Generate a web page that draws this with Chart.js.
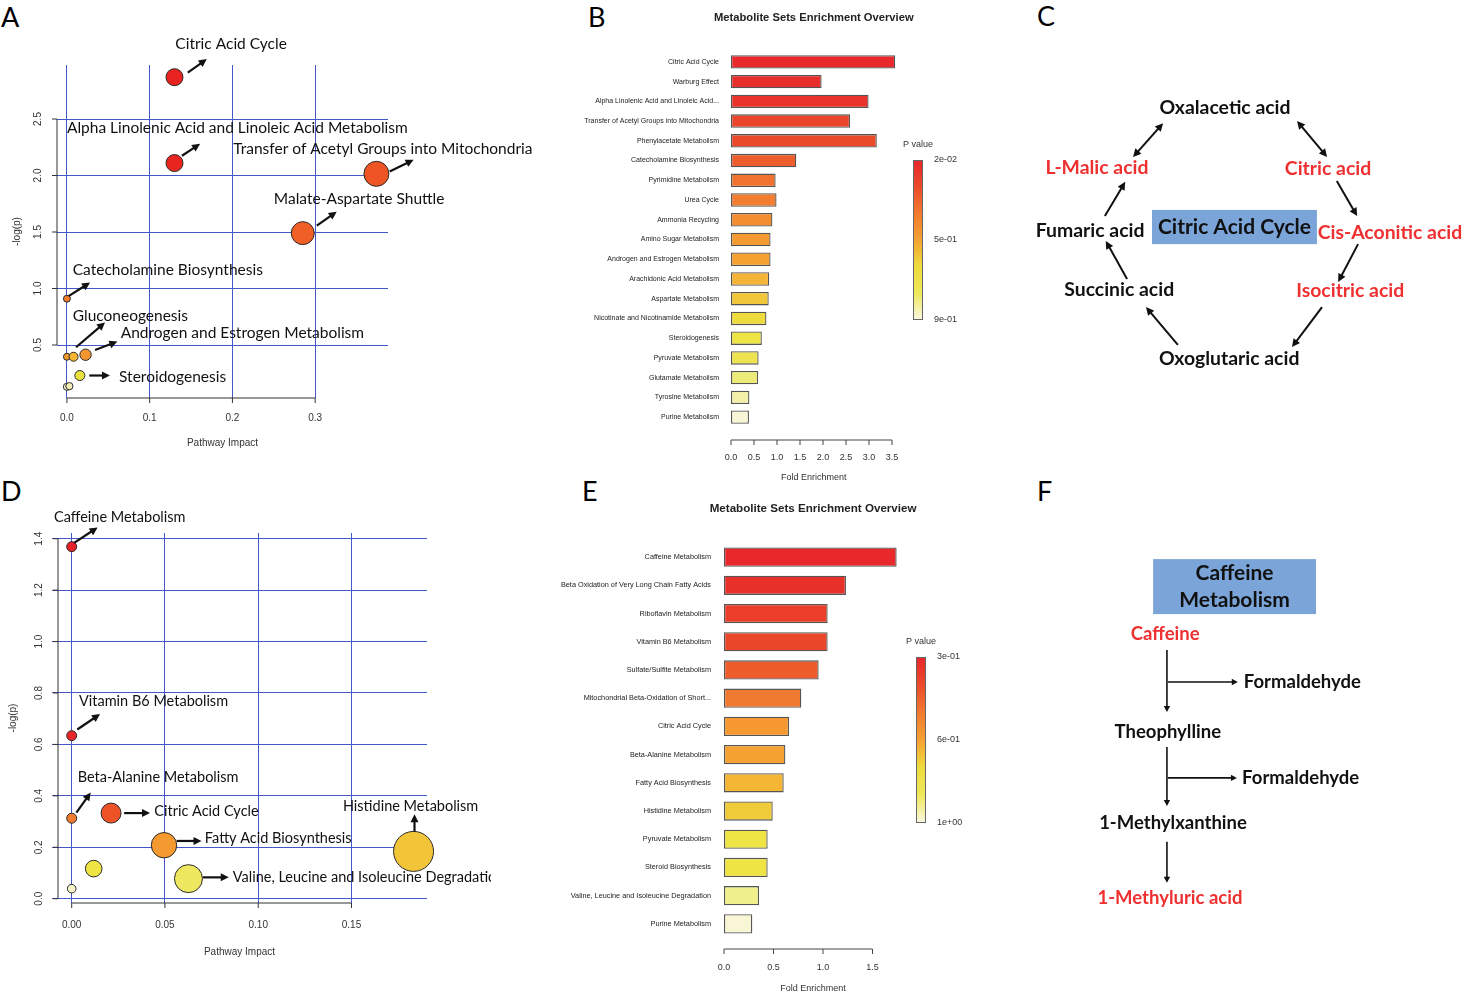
<!DOCTYPE html>
<html>
<head>
<meta charset="utf-8">
<script src="https://cdn.jsdelivr.net/npm/chart.js@4.4.1/dist/chart.umd.min.js"></script>
<style>
  body { margin: 0; background: #fff; width: 1462px; height: 995px; position: relative; overflow: hidden; }
  canvas { position: absolute; }
  .tag { position: absolute; font: 27px Lato, sans-serif; color: #000; line-height: 1; }
</style>
</head>
<body>
<div class="tag" style="left:1px;top:3px">A</div>
<div class="tag" style="left:588px;top:3px">B</div>
<div class="tag" style="left:1037px;top:2px">C</div>
<div class="tag" style="left:1px;top:477px">D</div>
<div class="tag" style="left:582px;top:477px">E</div>
<div class="tag" style="left:1037px;top:477px">F</div>

<canvas id="cA" width="560" height="470" style="left:0;top:0"></canvas>
<canvas id="cB" width="440" height="490" style="left:560px;top:0"></canvas>
<canvas id="cC" width="462" height="360" style="left:1000px;top:40px"></canvas>
<canvas id="cD" width="491" height="505" style="left:0;top:490px"></canvas>
<canvas id="cE" width="440" height="510" style="left:550px;top:490px"></canvas>
<canvas id="cF" width="432" height="390" style="left:1030px;top:540px"></canvas>

<script>
// ---------- panel A : pathway impact vs -log(p) ----------
const aImpact = [0.130, 0.130, 0.374, 0.285, 0.000, 0.000, 0.008, 0.0225, 0.0156, 0.000, 0.003];
const aLogP   = [2.87, 2.11, 2.015, 1.49, 0.91, 0.396, 0.396, 0.414, 0.23, 0.13, 0.136];
const aRadius = [8.5, 8.5, 12.5, 11.5, 3.5, 3.5, 4.5, 5.7, 5, 3.6, 3.6];
const aColors = ['#E8231F', '#E8261F', '#EE5424', '#F05F25', '#F07B2A', '#F39A2C', '#F6B632', '#F59530', '#EAE23C', '#F8F6D0', '#F4F0B8'];
const aXTicks = [0, 0.1, 0.2, 0.3];
const aYTicks = [0.5, 1.0, 1.5, 2.0, 2.5];
const aLabelText = ['Citric Acid Cycle', 'Alpha Linolenic Acid and Linoleic Acid Metabolism',
  'Transfer of Acetyl Groups into Mitochondria', 'Malate-Aspartate Shuttle', 'Catecholamine Biosynthesis',
  'Gluconeogenesis', 'Androgen and Estrogen Metabolism', 'Steroidogenesis'];
const aLabelX = [0.131, 0.000, 0.201, 0.250, 0.007, 0.007, 0.065, 0.063];
const aLabelY = [3.166, 2.417, 2.237, 1.796, 1.163, 0.760, 0.609, 0.213];
const aArrows = [
  [0.146, 2.91, 0.169, 3.03], [0.139, 2.175, 0.161, 2.28], [0.390, 2.035, 0.419, 2.14],
  [0.302, 1.556, 0.326, 1.68], [0.002, 0.932, 0.028, 1.053], [0.011, 0.48, 0.046, 0.70],
  [0.034, 0.456, 0.061, 0.53], [0.027, 0.23, 0.052, 0.23]
];

// ---------- panel B : enrichment overview ----------
const bSets = ['Citric Acid Cycle', 'Warburg Effect', 'Alpha Linolenic Acid and Linoleic Acid...',
  'Transfer of Acetyl Groups into Mitochondria', 'Phenylacetate Metabolism', 'Catecholamine Biosynthesis',
  'Pyrimidine Metabolism', 'Urea Cycle', 'Ammonia Recycling', 'Amino Sugar Metabolism',
  'Androgen and Estrogen Metabolism', 'Arachidonic Acid Metabolism', 'Aspartate Metabolism',
  'Nicotinate and Nicotinamide Metabolism', 'Steroidogenesis', 'Pyruvate Metabolism',
  'Glutamate Metabolism', 'Tyrosine Metabolism', 'Purine Metabolism'];
const bFold = [3.57, 1.97, 2.99, 2.59, 3.17, 1.42, 0.97, 0.99, 0.90, 0.86, 0.86, 0.83, 0.82, 0.77, 0.67, 0.60, 0.59, 0.40, 0.39];
const bColors = ['#E8282A', '#E82E2A', '#E8342A', '#EA442A', '#EA4A2A', '#EE5E2C', '#F0722E', '#F27E30', '#F48C30',
  '#F59A30', '#F5A232', '#F5B436', '#F2C63A', '#EEDC3E', '#EEE444', '#EEE450', '#EEEA78', '#F2F0A8', '#F8F6D6'];
const bTicks = [0, 0.5, 1.0, 1.5, 2.0, 2.5, 3.0, 3.5];
const bPLabels = ['2e-02', '5e-01', '9e-01'];

// ---------- panel C : citric acid cycle ----------
const cNodes = ['Oxalacetic acid', 'L-Malic acid', 'Citric acid', 'Fumaric acid', 'Cis-Aconitic acid',
  'Succinic acid', 'Isocitric acid', 'Oxoglutaric acid'];
const cNodeX = [48.7, 21.0, 71.0, 19.5, 84.4, 25.8, 75.8, 49.6];
const cNodeY = [18.9, 35.6, 35.8, 53.1, 53.6, 69.4, 69.7, 88.6];
const cHighlighted = [false, true, true, false, true, false, true, false];
const cBoxText = ['Citric Acid Cycle'];
const cBox = [32.9, 47.2, 68.6, 56.7];
const cArrows = [
  [35.3, 23.1, 28.8, 32.5, true], [64.3, 22.5, 70.8, 32.5, true],
  [72.9, 39.2, 77.3, 48.9], [77.5, 56.7, 73.2, 67.2], [69.7, 74.2, 63.2, 85.3],
  [38.5, 84.7, 31.6, 74.2], [27.5, 66.4, 22.9, 55.8], [22.7, 48.9, 27.1, 39.4]
];

// ---------- panel D : pathway impact vs -log(p) ----------
const dImpact = [0, 0, 0, 0.0211, 0.0495, 0.1833, 0.0118, 0.0626, 0];
const dLogP   = [1.369, 0.634, 0.313, 0.333, 0.208, 0.184, 0.117, 0.078, 0.039];
const dRadius = [5, 5, 5, 10, 12.7, 20, 8.3, 14, 4.3];
const dColors = ['#E8222A', '#E8262A', '#F07A2E', '#EE5328', '#F59A30', '#F2C438', '#EEE444', '#EEE860', '#F6F4C8'];
const dXTicks = [0, 0.05, 0.10, 0.15];
const dYTicks = [0, 0.2, 0.4, 0.6, 0.8, 1.0, 1.2, 1.4];
const dLabelText = ['Caffeine Metabolism', 'Vitamin B6 Metabolism', 'Beta-Alanine Metabolism', 'Citric Acid Cycle',
  'Fatty Acid Biosynthesis', 'Histidine Metabolism', 'Valine, Leucine and Isoleucine Degradation'];
const dLabelX = [-0.0095, 0.0039, 0.0032, 0.0443, 0.0714, 0.1454, 0.0864];
const dLabelY = [1.482, 0.766, 0.473, 0.339, 0.235, 0.361, 0.083];
const dArrows = [
  [0.0013, 1.384, 0.0139, 1.444], [0.003, 0.658, 0.0152, 0.718], [0.0025, 0.335, 0.0102, 0.413],
  [0.0281, 0.333, 0.042, 0.333], [0.0563, 0.2246, 0.0696, 0.2246], [0.1838, 0.261, 0.1838, 0.328],
  [0.0703, 0.083, 0.0842, 0.083]
];

// ---------- panel E : enrichment overview ----------
const eSets = ['Caffeine Metabolism', 'Beta Oxidation of Very Long Chain Fatty Acids', 'Riboflavin Metabolism',
  'Vitamin B6 Metabolism', 'Sulfate/Sulfite Metabolism', 'Mitochondrial Beta-Oxidation of Short...',
  'Citric Acid Cycle', 'Beta-Alanine Metabolism', 'Fatty Acid Biosynthesis', 'Histidine Metabolism',
  'Pyruvate Metabolism', 'Steroid Biosynthesis', 'Valine, Leucine and Isoleucine Degradation', 'Purine Metabolism'];
const eFold = [1.744, 1.232, 1.047, 1.047, 0.956, 0.781, 0.657, 0.620, 0.603, 0.492, 0.441, 0.441, 0.354, 0.286];
const eColors = ['#E8282A', '#E8302A', '#EA3E2A', '#EA462A', '#EE5C2C', '#F07A30', '#F59830', '#F5A232',
  '#F5B636', '#F0CC3A', '#EEE444', '#EEE444', '#F0F08C', '#F8F6D4'];
const eTicks = [0, 0.5, 1.0, 1.5];
const ePLabels = ['3e-01', '6e-01', '1e+00'];

// ---------- panel F : caffeine metabolism ----------
const fNodes = ['Caffeine', 'Formaldehyde', 'Theophylline', 'Formaldehyde', '1-Methylxanthine', '1-Methyluric acid'];
const fNodeX = [31.3, 49.5, 31.9, 49.1, 33.1, 32.4];
const fNodeY = [24.1, 36.4, 49.2, 61.0, 72.6, 91.8];
const fAnchor = ['center', 'left', 'center', 'left', 'center', 'center'];
const fHighlighted = [true, false, false, false, false, true];
const fBoxText = ['Caffeine', 'Metabolism'];
const fBox = [28.5, 4.9, 66.2, 19.0];
const fArrows = [
  [31.7, 28.2, 31.7, 44.1], [31.9, 36.4, 48.1, 36.4], [31.7, 53.1, 31.7, 68.2],
  [31.9, 61.0, 47.9, 61.0], [31.7, 77.4, 31.7, 87.9]
];

const BLUE = '#4456C8';
const RED = '#EE3030';
const RFONT = '"Liberation Sans", Arial, sans-serif';

function arrow(ctx, x1, y1, x2, y2, w, hl, hw, both) {
  const ang = Math.atan2(y2 - y1, x2 - x1);
  const c = Math.cos(ang), s = Math.sin(ang);
  ctx.lineWidth = w;
  ctx.beginPath();
  ctx.moveTo(both ? x1 + c * hl * 0.7 : x1, both ? y1 + s * hl * 0.7 : y1);
  ctx.lineTo(x2 - c * hl * 0.7, y2 - s * hl * 0.7);
  ctx.stroke();
  const head = (x, y, c, s) => {
    ctx.beginPath();
    ctx.moveTo(x, y);
    ctx.lineTo(x - hl * c + hw * s, y - hl * s - hw * c);
    ctx.lineTo(x - hl * c - hw * s, y - hl * s + hw * c);
    ctx.closePath();
    ctx.fill();
  };
  head(x2, y2, c, s);
  if (both) head(x1, y1, -c, -s);
}

// R style axes + labels with arrows for the bubble plots
const rAxes = {
  id: 'rAxes',
  afterDraw(chart, args, o) {
    const { ctx, chartArea: a, scales: { x, y } } = chart;
    ctx.save();
    ctx.strokeStyle = '#333';
    ctx.lineWidth = 1;
    const ax = a.left + o.inset;
    const yt = o.yTicks, xt = o.xTicks;
    ctx.beginPath();
    ctx.moveTo(ax, y.getPixelForValue(yt[0]));
    ctx.lineTo(ax, y.getPixelForValue(yt[yt.length - 1]));
    yt.forEach(v => { const p = y.getPixelForValue(v); ctx.moveTo(ax, p); ctx.lineTo(ax - 5, p); });
    ctx.moveTo(x.getPixelForValue(xt[0]), a.bottom);
    ctx.lineTo(x.getPixelForValue(xt[xt.length - 1]), a.bottom);
    xt.forEach(v => { const p = x.getPixelForValue(v); ctx.moveTo(p, a.bottom); ctx.lineTo(p, a.bottom + 5); });
    ctx.stroke();

    ctx.fillStyle = '#333';
    ctx.font = '10px ' + RFONT;
    ctx.textAlign = 'center';
    ctx.textBaseline = 'middle';
    yt.forEach(v => {
      ctx.save();
      ctx.translate(ax - 19, y.getPixelForValue(v));
      ctx.rotate(-Math.PI / 2);
      ctx.fillText(v.toFixed(1), 0, 0);
      ctx.restore();
    });

    // annotations
    ctx.fillStyle = '#111';
    ctx.strokeStyle = '#111';
    o.arrows.forEach(r => arrow(ctx, x.getPixelForValue(r[0]), y.getPixelForValue(r[1]),
      x.getPixelForValue(r[2]), y.getPixelForValue(r[3]), 2.2, 8, 4, false));
    ctx.font = o.font;
    ctx.textAlign = 'left';
    o.text.forEach((t, i) => ctx.fillText(t, x.getPixelForValue(o.lx[i]), y.getPixelForValue(o.ly[i])));
    ctx.restore();
  }
};

function bubbleChart(id, c) {
  const axisTitle = { display: true, color: '#333', font: { family: RFONT, size: 10 }, padding: 4 };
  return new Chart(document.getElementById(id), {
    type: 'bubble',
    data: {
      datasets: [{
        data: c.x.map((v, i) => ({ x: v, y: c.y[i], r: c.r[i] })),
        backgroundColor: c.colors,
        borderColor: '#2a2a2a',
        borderWidth: 1,
        clip: false
      }]
    },
    options: {
      responsive: false,
      animation: false,
      events: [],
      layout: { padding: c.pad },
      plugins: {
        legend: { display: false },
        tooltip: { enabled: false },
        rAxes: { inset: c.inset, xTicks: c.xTicks, yTicks: c.yTicks, text: c.text, lx: c.lx, ly: c.ly, arrows: c.arrows, font: c.font }
      },
      scales: {
        x: {
          type: 'linear', min: c.xRange[0], max: c.xRange[1],
          afterBuildTicks: s => { s.ticks = c.xTicks.map(v => ({ value: v })); },
          afterFit: s => { s.height = c.xh; },
          grid: { color: BLUE, lineWidth: 1, drawTicks: false },
          border: { display: false },
          ticks: { padding: c.xPad, color: '#333', font: { family: RFONT, size: 10 }, callback: v => v.toFixed(c.xDec) },
          title: Object.assign({ text: 'Pathway Impact' }, axisTitle)
        },
        y: {
          type: 'linear', min: c.yRange[0], max: c.yRange[1],
          afterBuildTicks: s => { s.ticks = c.yTicks.map(v => ({ value: v })); },
          afterFit: s => { s.width = c.yw; },
          grid: { color: BLUE, lineWidth: 1, drawTicks: false },
          border: { display: false },
          ticks: { display: false },
          title: Object.assign({ text: '-log(p)' }, axisTitle)
        }
      }
    },
    plugins: [rAxes]
  });
}

// R style axis, title and colour key for the bar plots
const rBars = {
  id: 'rBars',
  afterDraw(chart, args, o) {
    const { ctx, chartArea: a, scales: { x } } = chart;
    ctx.save();
    const y0 = a.bottom + o.gap;
    ctx.strokeStyle = '#444';
    ctx.lineWidth = 1;
    ctx.beginPath();
    ctx.moveTo(x.getPixelForValue(o.ticks[0]), y0);
    ctx.lineTo(x.getPixelForValue(o.ticks[o.ticks.length - 1]), y0);
    o.ticks.forEach(v => { const p = x.getPixelForValue(v); ctx.moveTo(p, y0); ctx.lineTo(p, y0 + 5); });
    ctx.stroke();

    ctx.fillStyle = '#222';
    ctx.font = 'bold ' + o.titleSize + 'px ' + RFONT;
    ctx.textAlign = 'center';
    ctx.textBaseline = 'middle';
    ctx.fillText('Metabolite Sets Enrichment Overview', (a.left + a.right) / 2, o.titleY);

    // colour key
    const k = o.key;
    ctx.font = '9px ' + RFONT;
    ctx.fillStyle = '#333';
    ctx.fillText('P value', k.x + k.w / 2, k.y - 15);
    const g = ctx.createLinearGradient(0, k.y, 0, k.y + k.h);
    ['#E8262A', '#EC4A2A', '#F27A2E', '#F5A232', '#EEDC3E', '#EEE85A', '#FAF8E4'].forEach((col, i, arr) => g.addColorStop(i / (arr.length - 1), col));
    ctx.fillStyle = g;
    ctx.fillRect(k.x, k.y, k.w, k.h);
    ctx.strokeStyle = '#666';
    ctx.strokeRect(k.x + 0.5, k.y + 0.5, k.w - 1, k.h - 1);
    ctx.fillStyle = '#333';
    ctx.textAlign = 'left';
    k.labels.forEach((t, i) => ctx.fillText(t, k.x + k.w + 11, k.y + i * k.h / (k.labels.length - 1)));
    ctx.restore();
  }
};

function barChart(id, c) {
  return new Chart(document.getElementById(id), {
    type: 'bar',
    data: {
      labels: c.labels,
      datasets: [{
        data: c.values,
        backgroundColor: c.colors,
        borderColor: '#555',
        borderWidth: 1.3,
        borderSkipped: false,
        barPercentage: 0.68,
        categoryPercentage: 1.0
      }]
    },
    options: {
      indexAxis: 'y',
      responsive: false,
      animation: false,
      events: [],
      layout: { padding: c.pad },
      plugins: {
        legend: { display: false },
        tooltip: { enabled: false },
        rBars: { ticks: c.ticks, gap: c.gap, titleY: c.titleY, titleSize: c.titleSize, key: c.key }
      },
      scales: {
        x: {
          min: 0, max: c.xMax,
          afterBuildTicks: s => { s.ticks = c.ticks.map(v => ({ value: v })); },
          afterFit: s => { s.height = 60; },
          grid: { display: false, drawTicks: false },
          border: { display: false },
          ticks: { padding: c.xPad, color: '#333', font: { family: RFONT, size: 9 }, callback: v => v.toFixed(1) },
          title: { display: true, text: 'Fold Enrichment', color: '#333', font: { family: RFONT, size: 9 }, padding: 4 }
        },
        y: {
          afterFit: s => { s.width = c.yw; },
          grid: { display: false, drawTicks: false },
          border: { display: false },
          ticks: { autoSkip: false, padding: c.yPad, color: '#222', font: { family: RFONT, size: c.catSize } }
        }
      }
    },
    plugins: [rBars]
  });
}

// pathway diagrams, node layout in 0..100 diagram units
const flow = {
  id: 'flow',
  afterDraw(chart, args, o) {
    const { ctx, scales: { x, y } } = chart;
    ctx.save();
    const bx1 = x.getPixelForValue(o.box[0]), by1 = y.getPixelForValue(o.box[1]);
    const bx2 = x.getPixelForValue(o.box[2]), by2 = y.getPixelForValue(o.box[3]);
    ctx.fillStyle = '#7BA5D8';
    ctx.fillRect(bx1, by1, bx2 - bx1, by2 - by1);
    ctx.fillStyle = '#111';
    ctx.font = o.boxFont;
    ctx.textAlign = 'center';
    ctx.textBaseline = 'middle';
    const lh = (by2 - by1) / o.boxText.length;
    o.boxText.forEach((t, i) => ctx.fillText(t, (bx1 + bx2) / 2, by1 + lh * (i + 0.5) + o.boxShift));

    ctx.font = o.nodeFont;
    o.nodes.forEach((t, i) => {
      ctx.fillStyle = o.red[i] ? RED : '#111';
      ctx.textAlign = o.anchor ? o.anchor[i] : 'center';
      ctx.fillText(t, x.getPixelForValue(o.nx[i]), y.getPixelForValue(o.ny[i]));
    });

    ctx.fillStyle = '#111';
    ctx.strokeStyle = '#111';
    o.arrows.forEach(r => arrow(ctx, x.getPixelForValue(r[0]), y.getPixelForValue(r[1]),
      x.getPixelForValue(r[2]), y.getPixelForValue(r[3]), o.lw, o.hl, o.hw, !!r[4]));
    ctx.restore();
  }
};

function diagram(id, c) {
  return new Chart(document.getElementById(id), {
    type: 'scatter',
    data: { datasets: [{ data: c.nx.map((v, i) => ({ x: v, y: c.ny[i] })), pointRadius: 0 }] },
    options: {
      responsive: false,
      animation: false,
      events: [],
      layout: { padding: 0 },
      plugins: { legend: { display: false }, tooltip: { enabled: false }, flow: c },
      scales: {
        x: { display: false, min: 0, max: 100 },
        y: { display: false, min: 0, max: 100, reverse: true }
      }
    },
    plugins: [flow]
  });
}

bubbleChart('cA', {
  x: aImpact, y: aLogP, r: aRadius, colors: aColors,
  xRange: [-0.012, 0.388], yRange: [0.031, 2.978],
  xTicks: aXTicks, yTicks: aYTicks, xDec: 1,
  pad: { left: 7, top: 65, right: 172, bottom: 17 }, yw: 50, xh: 55, xPad: 14, inset: 0,
  text: aLabelText, lx: aLabelX, ly: aLabelY, arrows: aArrows, font: '15.5px Lato, sans-serif'
});

bubbleChart('cD', {
  x: dImpact, y: dLogP, r: dRadius, colors: dColors,
  xRange: [-0.01056, 0.1905], yRange: [-0.0167, 1.4222],
  xTicks: dXTicks, yTicks: dYTicks, xDec: 2,
  pad: { left: 3, top: 43, right: 64, bottom: 33 }, yw: 49, xh: 59, xPad: 16, inset: 6,
  text: dLabelText, lx: dLabelX, ly: dLabelY, arrows: dArrows, font: '14.5px Lato, sans-serif'
});

barChart('cB', {
  labels: bSets, values: bFold, colors: bColors, ticks: bTicks, xMax: 3.6,
  pad: { left: 0, top: 52, right: 103.4, bottom: 3 }, yw: 171, yPad: 12, xPad: 25, gap: 13,
  catSize: 7, titleY: 18, titleSize: 11.2,
  key: { x: 353, y: 160, w: 10, h: 160, labels: bPLabels }
});

barChart('cE', {
  labels: eSets, values: eFold, colors: eColors, ticks: eTicks, xMax: 1.8,
  pad: { left: 0, top: 53, right: 87.8, bottom: 2 }, yw: 174, yPad: 13, xPad: 24, gap: 11,
  catSize: 7.3, titleY: 19, titleSize: 11.6,
  key: { x: 366, y: 167, w: 10, h: 166, labels: ePLabels }
});

diagram('cC', {
  nodes: cNodes, nx: cNodeX, ny: cNodeY, red: cHighlighted,
  box: cBox, boxText: cBoxText, boxFont: 'bold 21px Lato, sans-serif', boxShift: 0,
  nodeFont: 'bold 19.4px Lato, sans-serif', arrows: cArrows, lw: 2, hl: 8, hw: 4
});

diagram('cF', {
  nodes: fNodes, nx: fNodeX, ny: fNodeY, red: fHighlighted, anchor: fAnchor,
  box: fBox, boxText: fBoxText, boxFont: 'bold 21px Lato, sans-serif', boxShift: 0,
  nodeFont: 'bold 18.5px Lato, sans-serif', arrows: fArrows, lw: 1.6, hl: 6, hw: 3.2
});
</script>
</body>
</html>
